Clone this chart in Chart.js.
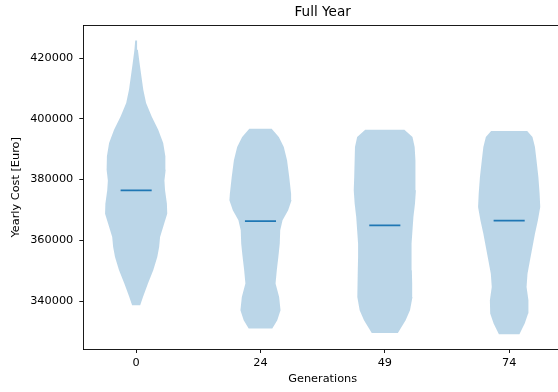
<!DOCTYPE html>
<html>
<head>
<meta charset="utf-8">
<script src="https://cdn.jsdelivr.net/npm/chart.js@4/dist/chart.umd.min.js"></script>
<style>
  html, body { margin: 0; padding: 0; background: #fff; overflow: hidden; width: 558px; height: 392px; }
  canvas { display: block; }
</style>
</head>
<body>
<canvas id="chart" width="570" height="392"></canvas>
<script>
// Generations shown on the x axis (violins sit at positions 1..4)
const generations = ['0', '24', '49', '74'];
const positions = [1, 2, 3, 4];
const yTickValues = [340000, 360000, 380000, 400000, 420000];

// Mean yearly cost of each generation
const meanCost = [376440, 366340, 364920, 366470];

// Density profiles: cost levels (ascending) and relative width at each level
const costLevels0 = [338580, 341320, 345730, 350110, 354490, 357780, 361070, 365480, 368770, 372060, 376440, 379730, 383260, 387640, 392010, 396430, 400800, 405180, 409590, 413970, 418350, 422760, 425820];
const density0    = [0.13, 0.22, 0.38, 0.55, 0.68, 0.74, 0.77, 0.90, 1.00, 0.99, 0.93, 0.91, 0.95, 0.94, 0.87, 0.71, 0.50, 0.32, 0.23, 0.17, 0.11, 0.055, 0.03];

const costLevels1 = [330910, 333650, 336940, 341320, 345730, 350110, 354490, 358900, 363270, 366570, 369860, 373150, 375360, 380820, 386320, 390700, 393990, 396750];
const density1    = [0.38, 0.54, 0.645, 0.60, 0.485, 0.525, 0.575, 0.62, 0.635, 0.71, 0.89, 1.00, 0.985, 0.925, 0.855, 0.75, 0.59, 0.36];

const costLevels2 = [329470, 333650, 336940, 341320, 345730, 350110, 354490, 358900, 363270, 367650, 372060, 376440, 380820, 386320, 390700, 393990, 396430];
const density2    = [0.42, 0.67, 0.81, 0.89, 0.88, 0.87, 0.86, 0.86, 0.89, 0.92, 0.97, 1.00, 0.99, 0.98, 0.96, 0.89, 0.63];

const costLevels3 = [329040, 332560, 335850, 340230, 344610, 349020, 353400, 357780, 362190, 366570, 370950, 375360, 380820, 386320, 390700, 393990, 395960];
const density3    = [0.33, 0.50, 0.61, 0.62, 0.56, 0.59, 0.67, 0.75, 0.83, 0.925, 1.00, 0.98, 0.94, 0.88, 0.83, 0.75, 0.58];

const profiles = [
  [costLevels0, density0],
  [costLevels1, density1],
  [costLevels2, density2],
  [costLevels3, density3]
];

const HALF_WIDTH = 0.25;   // violin body width 0.5 in axis units
const MEAN_HALF = 0.125;   // mean marker spans half the body width
const FONT = 'DejaVu Sans';
const BODY_COLOR = 'rgba(31,119,180,0.3)';
const LINE_COLOR = '#1f77b4';

// Closed outline of a violin; starts at the widest level on the left and
// ends at the widest level on the right so the fill spans the full body.
function violinOutline(pos, costs, dens) {
  let k = 0;
  dens.forEach((d, i) => { if (d > dens[k]) k = i; });
  const left = i => ({ x: pos - HALF_WIDTH * dens[i], y: costs[i] });
  const right = i => ({ x: pos + HALF_WIDTH * dens[i], y: costs[i] });
  const pts = [];
  for (let i = k; i >= 0; i--) pts.push(left(i));
  for (let i = 0; i < costs.length; i++) pts.push(right(i));
  for (let i = costs.length - 1; i >= k; i--) pts.push(left(i));
  pts.push(right(k));
  return pts;
}

const meanSets = positions.map((pos, i) => ({
  data: [{ x: pos - MEAN_HALF, y: meanCost[i] }, { x: pos + MEAN_HALF, y: meanCost[i] }],
  showLine: true,
  borderColor: LINE_COLOR,
  borderWidth: 1.7,
  pointRadius: 0,
  fill: false
}));

const bodySets = positions.map((pos, i) => ({
  data: violinOutline(pos, profiles[i][0], profiles[i][1]),
  showLine: true,
  borderWidth: 0,
  borderColor: 'rgba(0,0,0,0)',
  backgroundColor: BODY_COLOR,
  pointRadius: 0,
  tension: 0,
  fill: 'shape'
}));

const tickGrid = { display: true, drawOnChartArea: false, drawTicks: true, tickLength: 4, color: '#000', lineWidth: 0.9 };
const spine = { display: true, color: '#000', width: 0.9 };

new Chart(document.getElementById('chart'), {
  type: 'scatter',
  data: { datasets: [...meanSets, ...bodySets] },
  options: {
    responsive: false,
    animation: false,
    layout: { padding: { left: 0, right: 8, top: 0, bottom: 0 } },
    plugins: {
      legend: { display: false },
      tooltip: { enabled: false },
      title: {
        display: true,
        text: 'Full Year',
        fullSize: false,
        color: '#000',
        font: { family: FONT, size: 13.6, weight: 'normal' },
        padding: { top: 4.8, bottom: 4.6 }
      }
    },
    scales: {
      x: {
        type: 'linear',
        position: 'bottom',
        min: 0.575,
        max: 4.425,
        afterBuildTicks: s => { s.ticks = positions.map(v => ({ value: v })); },
        afterFit: s => { s.height = 43; },
        ticks: {
          color: '#000',
          padding: 3.5,
          font: { family: FONT, size: 11.3 },
          callback: (v, i) => generations[i]
        },
        grid: tickGrid,
        border: spine,
        title: {
          display: true,
          text: 'Generations',
          color: '#000',
          font: { family: FONT, size: 11.3 },
          padding: { top: 0, bottom: 5.9 }
        }
      },
      xTop: {
        type: 'linear',
        position: 'top',
        min: 0.575,
        max: 4.425,
        ticks: { display: false },
        grid: { display: false, drawTicks: false },
        border: spine
      },
      y: {
        type: 'linear',
        position: 'left',
        min: 324200,
        max: 430660,
        afterBuildTicks: s => { s.ticks = yTickValues.map(v => ({ value: v })); },
        afterFit: s => { s.width = 83.3; },
        ticks: {
          color: '#000',
          padding: 6,
          font: { family: FONT, size: 11.3 },
          callback: v => String(v)
        },
        grid: tickGrid,
        border: spine,
        title: {
          display: true,
          text: 'Yearly Cost [Euro]',
          color: '#000',
          font: { family: FONT, size: 11.3 },
          padding: { top: 9.2, bottom: 0 }
        }
      }
    }
  }
});
</script>
</body>
</html>
